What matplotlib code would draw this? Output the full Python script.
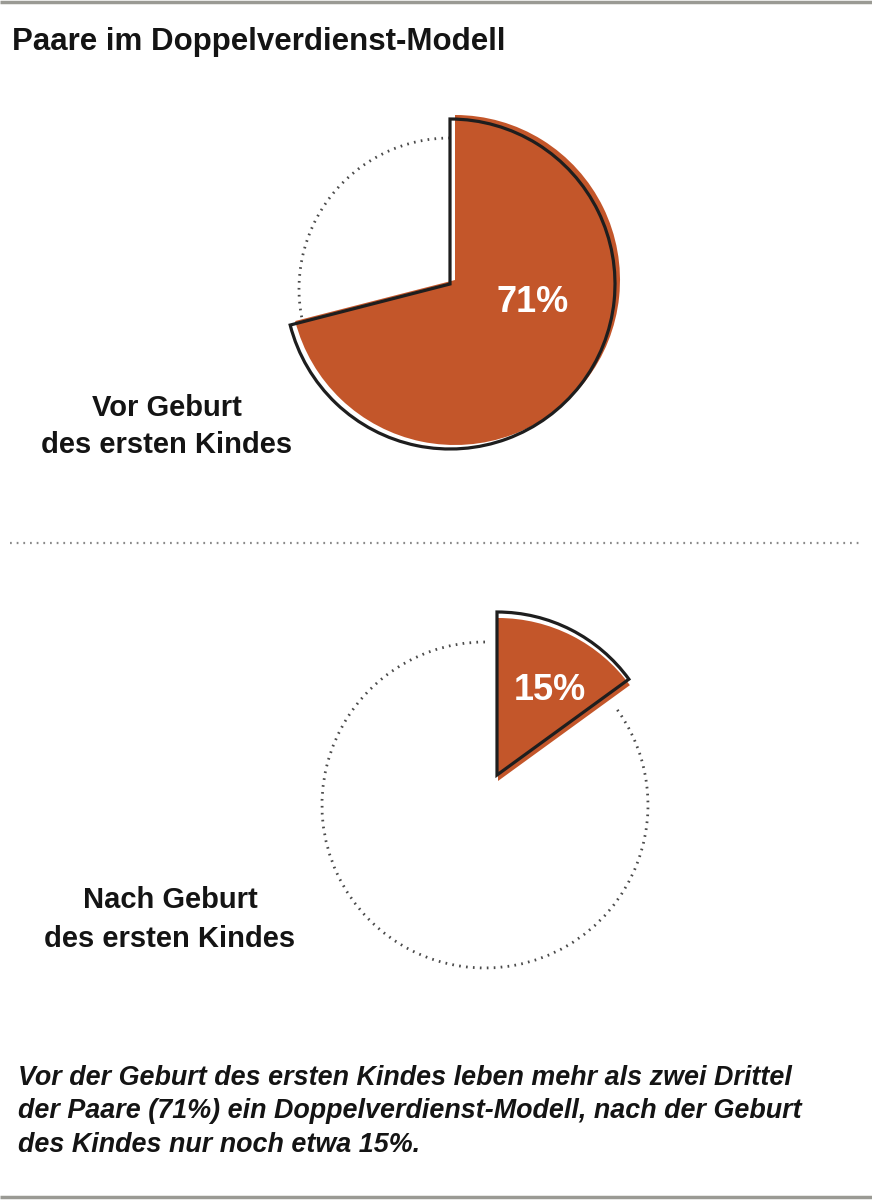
import matplotlib
matplotlib.use("Agg")
import matplotlib.pyplot as plt
from matplotlib.patches import Arc

# data
shares = [71, 15]
share_texts = ["71%", "15%"]
label_lines = [["Vor Geburt", "des ersten Kindes"],
               ["Nach Geburt", "des ersten Kindes"]]
title = "Paare im Doppelverdienst-Modell"
caption_lines = [
    "Vor der Geburt des ersten Kindes leben mehr als zwei Drittel",
    "der Paare (71%) ein Doppelverdienst-Modell, nach der Geburt",
    "des Kindes nur noch etwa 15%.",
]

W, H = 872, 1200
ORANGE = "#c3562a"
plt.rcParams["font.family"] = ["Liberation Sans", "DejaVu Sans"]

# layout in image pixels (y measured from top)
pies = [
    dict(outline=(450, 284), fill=(455, 280), dotted=(450, 289), r=165, rd=151,
         text=(533, 303), label_x=167, label_y=[416, 453]),
    dict(outline=(497, 775), fill=(498, 781), dotted=(485, 805), r=163, rd=163,
         text=(550, 690), label_x=170, label_y=[908, 947]),
]


def Y(v):
    return H - v


fig = plt.figure(figsize=(W / 100, H / 100), dpi=100)
ax = fig.add_axes([0, 0, 1, 1])

for share, txt, lines, p in zip(shares, share_texts, label_lines, pies):
    vals = [share, 100 - share]
    # dotted outline of the remaining part
    cx, cy = p["dotted"]
    ax.add_patch(Arc((cx, Y(cy)), 2 * p["rd"], 2 * p["rd"], theta1=90,
                     theta2=90 + 360 * (1 - share / 100), color="#4a4a4a",
                     lw=2.0, linestyle=(0, (0.6, 1.9)), zorder=1))
    # orange slice
    fx, fy = p["fill"]
    w1, _ = ax.pie(vals, colors=[ORANGE, "none"], startangle=90, counterclock=False,
                   center=(fx, Y(fy)), radius=p["r"], wedgeprops=dict(linewidth=0))
    for w in w1:
        w.set_zorder(2)
    # black outline, slightly offset
    ox, oy = p["outline"]
    w2, _ = ax.pie(vals, colors=["none", "none"], startangle=90, counterclock=False,
                   center=(ox, Y(oy)), radius=p["r"],
                   wedgeprops=dict(linewidth=2.3, edgecolor="#1e1e1e", fill=False,
                                   joinstyle="miter"))
    w2[0].set_zorder(3)
    w2[1].set_visible(False)

    tx, ty = p["text"]
    ax.text(tx, Y(ty), txt, color="white", fontsize=26, fontweight="bold",
            ha="center", va="center", zorder=4)
    for line, ly in zip(lines, p["label_y"]):
        ax.text(p["label_x"], Y(ly), line, fontsize=21, fontweight="bold",
                color="#141414", ha="center", va="baseline")

# title
ax.text(12, Y(50), title, fontsize=22.5, fontweight="bold", color="#141414",
        ha="left", va="baseline")

# caption
for line, ly in zip(caption_lines, [1085, 1118, 1152]):
    ax.text(18, Y(ly), line, fontsize=19.4, fontweight="bold", fontstyle="italic",
            color="#141414", ha="left", va="baseline")

# rules
ax.plot([0, W], [Y(1.5), Y(1.5)], color="#9a9a94", lw=2.5, solid_capstyle="butt")
ax.plot([0, W], [Y(1197), Y(1197)], color="#9a9a94", lw=2.5, solid_capstyle="butt")
ax.plot([10, 860], [Y(543), Y(543)], color="#8a8a8a", lw=1.6,
        linestyle=(0, (0.8, 2.2)))

ax.set_xlim(0, W)
ax.set_ylim(0, H)
ax.set_aspect("equal")
ax.axis("off")

fig.savefig("out.png", dpi=100)
